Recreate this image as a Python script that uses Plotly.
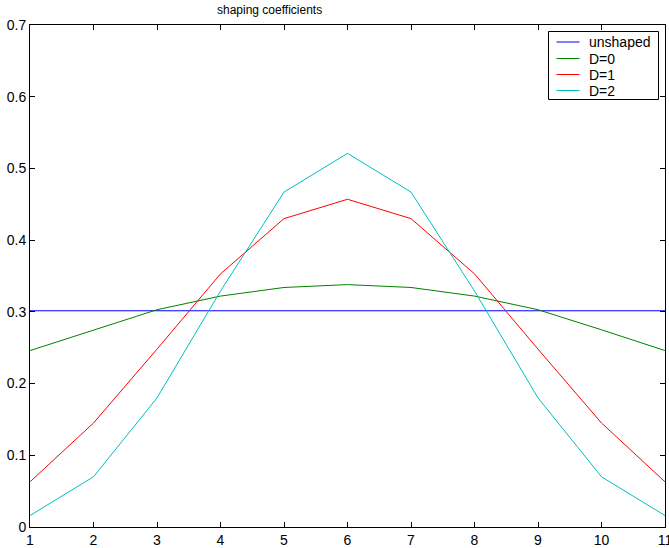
import plotly.graph_objects as go

# tap index
taps = list(range(1, 12))

# unit-norm shaping windows
unshaped = [0.3015] * 11
d0 = [0.246, 0.275, 0.303, 0.322, 0.334, 0.338, 0.334, 0.322, 0.303, 0.275, 0.246]
d1 = [0.063, 0.145, 0.248, 0.353, 0.430, 0.457, 0.430, 0.353, 0.248, 0.145, 0.063]
d2 = [0.016, 0.070, 0.180, 0.329, 0.467, 0.521, 0.467, 0.329, 0.180, 0.070, 0.016]

series_names = ["unshaped", "D=0", "D=1", "D=2"]
series_values = [unshaped, d0, d1, d2]
series_colors = ["#0000ff", "#008000", "#ff0000", "#00bfbf"]

x_ticks = list(range(1, 12))
y_ticks = [0, 0.1, 0.2, 0.3, 0.4, 0.5, 0.6, 0.7]
y_tick_text = ["0", "0.1", "0.2", "0.3", "0.4", "0.5", "0.6", "0.7"]

FAMILY = "Liberation Sans, Arial, sans-serif"

fig = go.Figure()
for name, vals, col in zip(series_names, series_values, series_colors):
    fig.add_trace(go.Scatter(x=taps, y=vals, mode="lines", name=name,
                             line=dict(color=col, width=1), showlegend=False))

tick_font = dict(family=FAMILY, size=14, color="black")

axis_common = dict(showline=True, linecolor="black", linewidth=1, mirror="ticks",
                   ticks="inside", ticklen=5, tickcolor="black", showgrid=False,
                   zeroline=False, tickfont=tick_font, ticklabeloverflow="allow",
                   automargin=False)

# boxed legend in the upper-right corner of the axes (paper coordinates)
W, H, L, T = 635.0, 502.0, 30.0, 25.0
def px(xp):
    return (xp - L) / W
def py(yp):
    return (T + H - yp) / H

shapes = [dict(type="rect", xref="paper", yref="paper",
               x0=px(548.5), x1=px(658.5), y0=py(99.5), y1=py(31.5),
               line=dict(color="black", width=1), fillcolor="white", layer="above")]
annotations = []
row_y = [42, 58.5, 74.5, 90.5]
for name, col, ry in zip(series_names, series_colors, row_y):
    shapes.append(dict(type="line", xref="paper", yref="paper",
                       x0=px(556.5), x1=px(579.5), y0=py(ry), y1=py(ry),
                       line=dict(color=col, width=1), layer="above"))
    annotations.append(dict(text=name, xref="paper", yref="paper",
                            x=px(587), y=py(ry), xanchor="left", yanchor="middle",
                            showarrow=False, font=dict(family=FAMILY, size=14, color="black")))

annotations.append(dict(text="shaping coefficients", xref="paper", yref="paper",
                        x=px(269), y=1, yanchor="bottom", xanchor="center",
                        yshift=6, showarrow=False,
                        font=dict(family=FAMILY, size=12, color="black")))

fig.update_layout(
    width=669, height=548,
    margin=dict(l=30, r=4, t=25, b=21, autoexpand=False),
    paper_bgcolor="white", plot_bgcolor="white",
    font=tick_font,
    showlegend=False,
    xaxis=dict(range=[1, 11], tickvals=x_ticks, **axis_common),
    yaxis=dict(range=[0, 0.7], tickvals=y_ticks, ticktext=y_tick_text, **axis_common),
    shapes=shapes,
    annotations=annotations,
)

fig.write_html("out.html")
